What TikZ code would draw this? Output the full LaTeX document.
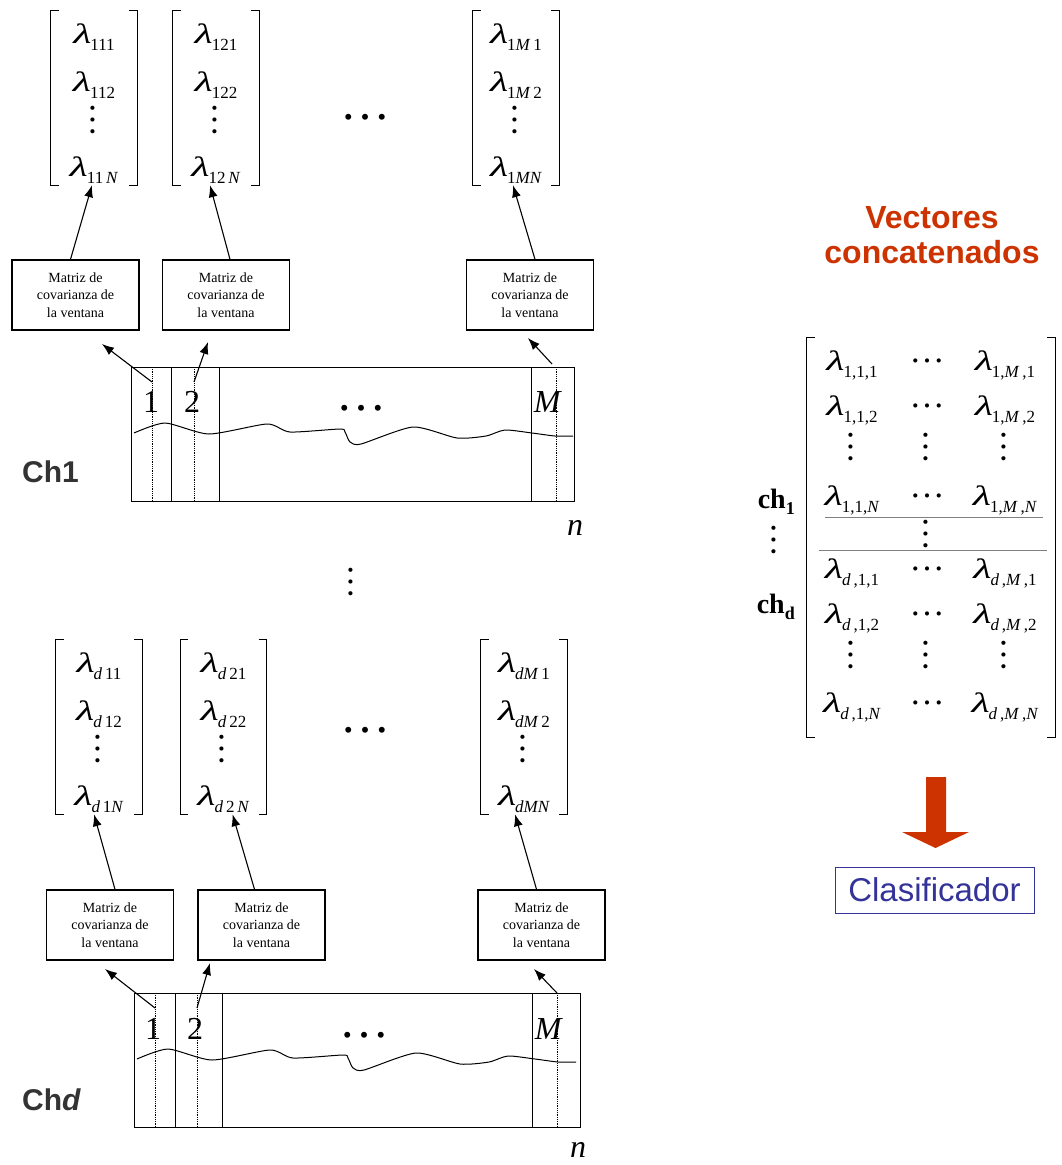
\documentclass[tikz,border=0pt]{standalone}
\usepackage{fontspec}
\setmainfont{Liberation Serif}
\newfontfamily\arialfont{Liberation Sans}
\usepackage{graphicx}
\usepackage{tikz}
\usetikzlibrary{arrows.meta}
\definecolor{concred}{RGB}{204,51,0}
\definecolor{clasblue}{RGB}{51,51,153}
\definecolor{sepgray}{RGB}{128,128,128}
\newcommand{\lam}[1]{\scalebox{1.5}[1]{\textit{λ}}\kern-1pt\raisebox{-7pt}{\fontsize{17}{17}\selectfont #1}}
\newcommand{\hdts}{{\fontsize{50}{50}\selectfont …}}
\newcommand{\sdts}{{\fontsize{35}{35}\selectfont …}}
\newcommand{\vdts}{\rotatebox{90}{\fontsize{35}{35}\selectfont\smash{…}}}

\begin{document}
\begin{tikzpicture}[x=1pt, y=-1pt,
    vec/.style={minimum width=86pt, minimum height=174pt, inner sep=0pt},
    brk/.style={line width=0.9pt},
    entry/.style={font=\fontsize{28}{30}\selectfont, inner sep=0pt},
    covbox/.style={draw, line width=1.3pt, minimum width=127pt, minimum height=70pt,
                   align=center, inner sep=0pt, font=\fontsize{14}{17.5}\selectfont},
    sig/.style={draw, line width=1pt, minimum width=443pt, minimum height=134pt, inner sep=0pt},
    win/.style={line width=1pt},
    winmid/.style={densely dotted, line width=0.8pt},
    wlabel/.style={font=\fontsize{32}{34}\selectfont, inner sep=0pt},
    flow/.style={-{Latex[length=12pt, width=9pt]}, line width=1.1pt},
    chlabel/.style={font=\arialfont\bfseries\fontsize{30}{32}\selectfont, text=black!80,
                    anchor=west, inner sep=0pt},
    chsub/.style={font=\fontsize{28}{30}\selectfont, anchor=east, inner sep=0pt}]
    \useasboundingbox (0,0) rectangle (1062,1165);

    % channel 1: eigenvalue vectors
    \node[vec] (v11) at (94,98) {};
    \node[entry] (l111) at (94,37) {\lam{111}};
    \node[entry] (l112) at (94,85) {\lam{112}};
    \node[entry] (l11v) at (94,120) {\vdts};
    \node[entry] (l11N) at (94,170) {\lam{11\,\textit{N}}};
    \draw[brk] ([xshift=8pt]v11.north west) -| (v11.south west) -- ++(8,0);
    \draw[brk] ([xshift=-8pt]v11.north east) -| (v11.south east) -- ++(-8,0);

    \node[vec] (v12) at (216,98) {};
    \node[entry] (l121) at (216,37) {\lam{121}};
    \node[entry] (l122) at (216,85) {\lam{122}};
    \node[entry] (l12v) at (216,120) {\vdts};
    \node[entry] (l12N) at (216,170) {\lam{12\,\textit{N}}};
    \draw[brk] ([xshift=8pt]v12.north west) -| (v12.south west) -- ++(8,0);
    \draw[brk] ([xshift=-8pt]v12.north east) -| (v12.south east) -- ++(-8,0);

    \node[entry] (d1) at (365,117) {\hdts};

    \node[vec] (v1M) at (516,98) {};
    \node[entry] (l1M1) at (516,37) {\lam{1\textit{M}\,1}};
    \node[entry] (l1M2) at (516,85) {\lam{1\textit{M}\,2}};
    \node[entry] (l1Mv) at (516,120) {\vdts};
    \node[entry] (l1MN) at (516,170) {\lam{1\textit{MN}}};
    \draw[brk] ([xshift=8pt]v1M.north west) -| (v1M.south west) -- ++(8,0);
    \draw[brk] ([xshift=-8pt]v1M.north east) -| (v1M.south east) -- ++(-8,0);

    % channel 1: covariance boxes
    \node[covbox] (m11) at (75.5,295) {Matriz de\\covarianza de\\la ventana};
    \node[covbox] (m12) at (226,295) {Matriz de\\covarianza de\\la ventana};
    \node[covbox] (m1M) at (530,295) {Matriz de\\covarianza de\\la ventana};
    \draw[flow] ([xshift=-5pt]m11.north) -- ([xshift=-2pt]v11.south);
    \draw[flow] ([xshift=4pt]m12.north) -- ([xshift=-6pt]v12.south);
    \draw[flow] ([xshift=5pt]m1M.north) -- ([xshift=-3pt]v1M.south);

    % channel 1: signal and windows
    \node[sig] (r1) at (352.5,434) {};
    \draw[win] (171,367) -- (171,501);
    \draw[win] (219,367) -- (219,501);
    \draw[win] (531,367) -- (531,501);
    \draw[winmid] (152,367) -- (152,501);
    \draw[winmid] (194,367) -- (194,501);
    \draw[winmid] (556,367) -- (556,501);
    \node[wlabel] (n11) at (151,402) {1};
    \node[wlabel] (n12) at (192,402) {2};
    \node[wlabel] (n1d) at (361,408) {\hdts};
    \node[wlabel] (n1M) at (548,402) {\textit{M}};
    \draw[line width=1pt] plot[smooth, tension=0.4] coordinates {(134,433) (165,423) (209,434)
      (267,424) (290,432) (340,429) (345,432) (350,442) (361,444) (413,427) (457,438)
      (486,436) (505,430) (532,433) (555,436) (573,436)};
    \coordinate (w11) at (152,382);
    \coordinate (w12) at (194,382);
    \coordinate (w1M) at (552,364);
    \coordinate (t11) at (102,344);
    \coordinate (t12) at (208,342);
    \coordinate (t1M) at (528,338);
    \draw[flow] (w11) -- (t11);
    \draw[flow] (w12) -- (t12);
    \draw[flow] (w1M) -- (t1M);
    \node[chlabel] (ch1) at (22,472) {Ch1};
    \node[wlabel, font=\fontsize{32}{34}\selectfont\itshape] (nn1) at (575,528) {n};

    \node[entry] (vmid) at (352,582) {\vdts};

    % channel d: eigenvalue vectors
    \node[vec] (vd1) at (99,727) {};
    \node[entry] (ld11) at (99,666) {\lam{\textit{d}\,11}};
    \node[entry] (ld12) at (99,714) {\lam{\textit{d}\,12}};
    \node[entry] (ld1v) at (99,749) {\vdts};
    \node[entry] (ld1N) at (99,799) {\lam{\textit{d}\,1\textit{N}}};
    \draw[brk] ([xshift=8pt]vd1.north west) -| (vd1.south west) -- ++(8,0);
    \draw[brk] ([xshift=-8pt]vd1.north east) -| (vd1.south east) -- ++(-8,0);

    \node[vec] (vd2) at (223.5,727) {};
    \node[entry] (ld21) at (223.5,666) {\lam{\textit{d}\,21}};
    \node[entry] (ld22) at (223.5,714) {\lam{\textit{d}\,22}};
    \node[entry] (ld2v) at (223.5,749) {\vdts};
    \node[entry] (ld2N) at (223.5,799) {\lam{\textit{d}\,2\,\textit{N}}};
    \draw[brk] ([xshift=8pt]vd2.north west) -| (vd2.south west) -- ++(8,0);
    \draw[brk] ([xshift=-8pt]vd2.north east) -| (vd2.south east) -- ++(-8,0);

    \node[entry] (dd) at (365,730) {\hdts};

    \node[vec] (vdM) at (524,727) {};
    \node[entry] (ldM1) at (524,666) {\lam{\textit{dM}\,1}};
    \node[entry] (ldM2) at (524,714) {\lam{\textit{dM}\,2}};
    \node[entry] (ldMv) at (524,749) {\vdts};
    \node[entry] (ldMN) at (524,799) {\lam{\textit{dMN}}};
    \draw[brk] ([xshift=8pt]vdM.north west) -| (vdM.south west) -- ++(8,0);
    \draw[brk] ([xshift=-8pt]vdM.north east) -| (vdM.south east) -- ++(-8,0);

    % channel d: covariance boxes
    \node[covbox] (md1) at (110,925) {Matriz de\\covarianza de\\la ventana};
    \node[covbox] (md2) at (261.5,925) {Matriz de\\covarianza de\\la ventana};
    \node[covbox] (mdM) at (541.5,925) {Matriz de\\covarianza de\\la ventana};
    \draw[flow] ([xshift=5pt]md1.north) -- ([xshift=-5pt]vd1.south);
    \draw[flow] ([xshift=-7pt]md2.north) -- ([xshift=9pt]vd2.south);
    \draw[flow] ([xshift=-5pt]mdM.north) -- ([xshift=-9pt]vdM.south);

    % channel d: signal and windows
    \node[sig, minimum width=446pt] (rd) at (357,1060) {};
    \draw[win] (175,993) -- (175,1127);
    \draw[win] (222,993) -- (222,1127);
    \draw[win] (532,993) -- (532,1127);
    \draw[winmid] (155,993) -- (155,1127);
    \draw[winmid] (197,993) -- (197,1127);
    \draw[winmid] (557,993) -- (557,1127);
    \node[wlabel] (nd1) at (153,1029) {1};
    \node[wlabel] (nd2) at (195,1029) {2};
    \node[wlabel] (ndd) at (364,1035) {\hdts};
    \node[wlabel] (ndM) at (549,1029) {\textit{M}};
    \begin{scope}[shift={(3,626)}]
      \draw[line width=1pt] plot[smooth, tension=0.4] coordinates {(134,433) (165,423) (209,434)
        (267,424) (290,432) (340,429) (345,432) (350,442) (361,444) (413,427) (457,438)
        (486,436) (505,430) (532,433) (555,436) (573,436)};
    \end{scope}
    \coordinate (wd1) at (155,1008);
    \coordinate (wd2) at (197,1008);
    \coordinate (wdM) at (557,993);
    \coordinate (td1) at (105,969);
    \coordinate (td2) at (210,963);
    \coordinate (tdM) at (534,969);
    \draw[flow] (wd1) -- (td1);
    \draw[flow] (wd2) -- (td2);
    \draw[flow] (wdM) -- (tdM);
    \node[chlabel] (chd) at (22,1100) {Ch\textit{d}};
    \node[wlabel, font=\fontsize{32}{34}\selectfont\itshape] (nnd) at (578,1150) {n};

    % concatenated vectors
    \node[font=\arialfont\bfseries\fontsize{32}{35}\selectfont, text=concred, align=center]
      (title) at (932,235) {Vectores\\concatenados};
    \node[vec, minimum width=248pt, minimum height=399pt] (cat) at (931,537.5) {};
    \draw[brk] ([xshift=8pt]cat.north west) -| (cat.south west) -- ++(8,0);
    \draw[brk] ([xshift=-8pt]cat.north east) -| (cat.south east) -- ++(-8,0);

    \node[entry] (c111) at (852,365) {\lam{1,1,1}};
    \node[entry] (c11h) at (927,361) {\sdts};
    \node[entry] (c1M1) at (1005,365) {\lam{1,\textit{M}\,,1}};
    \node[entry] (c112) at (852,410) {\lam{1,1,2}};
    \node[entry] (c12h) at (927,406) {\sdts};
    \node[entry] (c1M2) at (1005,410) {\lam{1,\textit{M}\,,2}};
    \node[entry] (c1v1) at (852,447) {\vdts};
    \node[entry] (c1v2) at (927,447) {\vdts};
    \node[entry] (c1v3) at (1005,447) {\vdts};
    \node[entry] (c11N) at (852,500) {\lam{1,1,\textit{N}}};
    \node[entry] (c1Nh) at (927,496) {\sdts};
    \node[entry] (c1MN) at (1005,500) {\lam{1,\textit{M}\,,\textit{N}}};
    \draw[sepgray, line width=1pt] (825,517) -- (1043,517);
    \node[entry] (cmid) at (927,534) {\vdts};
    \draw[sepgray, line width=1pt] (819,550) -- (1047,550);
    \node[entry] (cd11) at (852,573) {\lam{\textit{d}\,,1,1}};
    \node[entry] (cd1h) at (927,569) {\sdts};
    \node[entry] (cdM1) at (1005,573) {\lam{\textit{d}\,,\textit{M}\,,1}};
    \node[entry] (cd12) at (852,618) {\lam{\textit{d}\,,1,2}};
    \node[entry] (cd2h) at (927,614) {\sdts};
    \node[entry] (cdM2) at (1005,618) {\lam{\textit{d}\,,\textit{M}\,,2}};
    \node[entry] (cdv1) at (852,655) {\vdts};
    \node[entry] (cdv2) at (927,655) {\vdts};
    \node[entry] (cdv3) at (1005,655) {\vdts};
    \node[entry] (cd1N) at (852,707) {\lam{\textit{d}\,,1,\textit{N}}};
    \node[entry] (cdNh) at (927,703) {\sdts};
    \node[entry] (cdMN) at (1005,707) {\lam{\textit{d}\,,\textit{M}\,,\textit{N}}};

    \node[chsub] (cha) at (795,502) {\textbf{ch}\raisebox{-6pt}{\fontsize{18}{18}\selectfont\bfseries 1}};
    \node[entry] (chv) at (775,540) {\vdts};
    \node[chsub] (chb) at (795,607) {\textbf{ch}\raisebox{-6pt}{\fontsize{18}{18}\selectfont\bfseries d}};

    % classifier
    \node[draw=clasblue, line width=1pt, minimum width=199pt, minimum height=46pt, inner sep=0pt,
          font=\arialfont\fontsize{33}{35}\selectfont, text=clasblue] (clas) at (934.5,890) {Clasificador};
    \fill[concred] (926,777) -- (946,777) -- (946,832) -- (969,832) -- (935.5,848)
      -- (902,832) -- (926,832) -- cycle;
  \end{tikzpicture}
\end{document}
